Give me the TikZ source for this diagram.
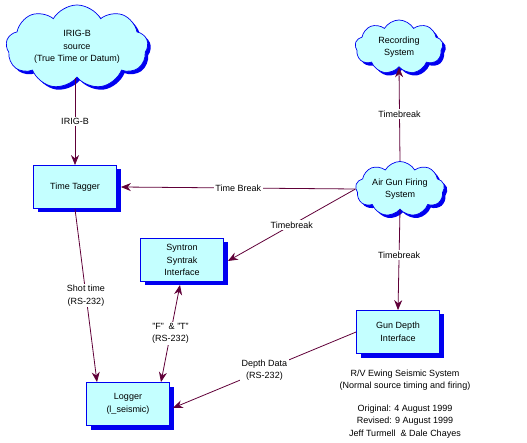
\documentclass[tikz,border=0pt]{standalone}
\usepackage{fontspec}
\setmainfont{Liberation Sans}
\usetikzlibrary{shapes.symbols,shadows,arrows.meta}
\definecolor{bblue}{HTML}{0000F0}
\definecolor{cyanf}{HTML}{C4FFFF}
\definecolor{wine}{HTML}{600038}
\tikzset{
  cl/.style={cloud, cloud puffs=9, cloud puff arc=120, cloud ignores aspect,
    draw=bblue, fill=cyanf, line width=0.7pt, align=center, inner sep=0pt,
    drop shadow={shadow xshift=3pt, shadow yshift=-3pt, fill=bblue, opacity=1}},
  bx/.style={rectangle, draw=bblue, fill=cyanf, line width=0.8pt,
    minimum width=83pt, minimum height=43pt, align=center, inner sep=0pt,
    drop shadow={shadow xshift=4pt, shadow yshift=-4pt, fill=bblue, opacity=1}},
  ar/.style={draw=wine, line width=0.8pt, -{Stealth[length=10pt,width=8pt]}},
  lb/.style={fill=white, inner sep=1.5pt, align=center, text=black},
  every node/.style={font=\fontsize{9}{12.5}\selectfont}
}
\begin{document}
\begin{tikzpicture}[x=1pt,y=-1pt]
\useasboundingbox (0,0) rectangle (527,443);
% clouds
\node[cl, minimum width=142pt, minimum height=84pt] (irig) at (77,47) {IRIG-B\\source\\(True Time or Datum)};
\node[cl, minimum width=88pt, minimum height=54pt] (rec) at (399,47) {Recording\\System};
\node[cl, minimum width=89pt, minimum height=55pt] (air) at (400,189) {Air Gun Firing\\System};
% boxes
\node[bx] (tt) at (75,187) {Time Tagger};
\node[bx] (syn) at (182,260) {Syntron\\Syntrak\\Interface};
\node[bx] (gd) at (398,332) {Gun Depth\\Interface};
\node[bx] (log) at (128,404) {Logger\\(l\_seismic)};
% connectors
\coordinate (airw) at (air.west);
\draw[ar] (irig.south -| tt.north) -- node[lb] {IRIG-B} (tt.north);
\draw[ar] (air.north) -- node[lb] {Timebreak} (rec.south);
\draw[ar] (airw) -- node[lb] {Time Break} ([xshift=4pt]tt.east);
\draw[ar] (airw) -- node[lb] {Timebreak} ([xshift=4pt,yshift=-1pt]syn.east);
\draw[ar] (air.south) -- node[lb, pos=0.45] {Timebreak} (gd.north);
\draw[ar] (tt.south) -- node[lb] {Shot time\\(RS-232)} ([xshift=-31pt]log.north);
\draw[ar, {Stealth[length=10pt,width=8pt]}-{Stealth[length=10pt,width=8pt]}] ([xshift=33pt]log.north) -- node[lb] {"F"\ \ \&\ "T"\\(RS-232)} ([xshift=-2pt,yshift=-3pt]syn.south);
\draw[ar] (gd.west) -- node[lb] {Depth Data\\(RS-232)} ([xshift=3pt,yshift=-4pt]log.east);
% caption
\node[align=center] (cap) at (405,404) {R/V Ewing Seismic System\\(Normal source timing and firing)\\[10pt]Original: 4 August 1999\\Revised: 9 August 1999\\Jeff Turmell \ \& Dale Chayes};
\end{tikzpicture}
\end{document}
